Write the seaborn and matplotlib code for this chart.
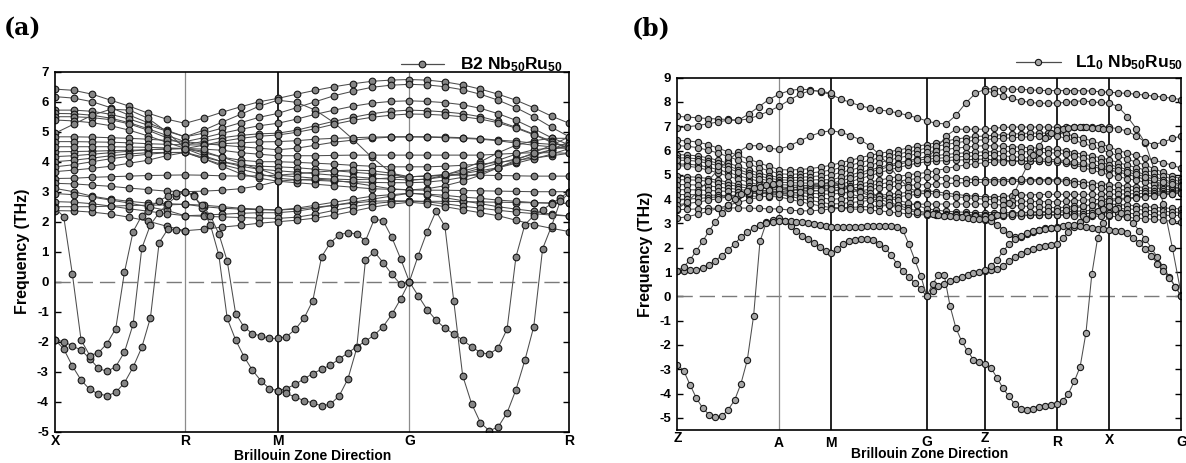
import numpy as np
import pandas as pd
import matplotlib
matplotlib.use('Agg')
import matplotlib.pyplot as plt
from matplotlib.lines import Line2D
import seaborn as sns

# ---------------- panel (a): B2 Nb50Ru50 ----------------
a_labels = ['X', 'R', 'M', 'G', 'R']
a_ticks = [0.0, 0.253, 0.433, 0.689, 1.0]
a_steps_dense = [7, 5, 7, 9]      # k-steps per segment for the 2-7 THz bands
a_steps_soft = [15, 11, 15, 18]   # k-steps per segment for the soft / acoustic branches

# upper bands, 29 k-points each (X..R..M..G..R)
a_upper = [
    [6.42, 6.38, 6.25, 6.05, 5.85, 5.62, 5.42, 5.28, 5.45, 5.65, 5.83, 6.0, 6.11, 6.25, 6.38, 6.5, 6.6, 6.68, 6.72, 6.74, 6.72, 6.66, 6.56, 6.42, 6.25, 6.05, 5.8, 5.52, 5.28],
    [6.17, 6.12, 6.0, 5.8, 5.55, 5.3, 5.05, 4.83, 5.05, 5.32, 5.58, 5.85, 6.05, 5.98, 5.72, 5.3, 4.75, 4.15, 3.65, 3.39, 3.42, 3.55, 3.75, 4.0, 4.3, 4.55, 4.7, 4.78, 4.78],
    [5.72, 5.72, 5.68, 5.58, 5.42, 5.22, 5.02, 4.83, 4.95, 5.12, 5.3, 5.48, 5.61, 5.8, 6.0, 6.2, 6.35, 6.48, 6.55, 6.58, 6.56, 6.5, 6.4, 6.25, 6.05, 5.8, 5.5, 5.15, 4.83],
    [5.61, 5.6, 5.55, 5.45, 5.3, 5.1, 4.88, 4.67, 4.8, 4.95, 5.08, 5.2, 5.28, 5.42, 5.58, 5.72, 5.85, 5.95, 6.01, 6.03, 6.01, 5.97, 5.9, 5.78, 5.6, 5.38, 5.1, 4.8, 4.56],
    [5.5, 5.5, 5.47, 5.4, 5.26, 5.05, 4.8, 4.56, 4.68, 4.8, 4.88, 4.93, 4.95, 5.05, 5.2, 5.35, 5.48, 5.6, 5.68, 5.72, 5.7, 5.66, 5.6, 5.5, 5.35, 5.15, 4.92, 4.68, 4.45],
    [5.39, 5.36, 5.3, 5.2, 5.05, 4.86, 4.65, 4.44, 4.55, 4.68, 4.78, 4.85, 4.89, 4.98, 5.1, 5.25, 5.38, 5.48, 5.55, 5.59, 5.58, 5.55, 5.5, 5.42, 5.3, 5.12, 4.9, 4.65, 4.44],
    [4.95, 5.25, 5.55, 5.75, 5.72, 5.45, 5.0, 4.44, 4.35, 4.15, 3.95, 3.75, 3.55, 3.5, 3.45, 3.42, 3.4, 3.42, 3.46, 3.5, 3.52, 3.58, 3.68, 3.85, 4.05, 4.25, 4.4, 4.45, 4.45],
    [4.83, 4.83, 4.82, 4.8, 4.78, 4.75, 4.71, 4.67, 4.6, 4.55, 4.5, 4.45, 4.4, 4.45, 4.55, 4.65, 4.72, 4.78, 4.82, 4.83, 4.83, 4.82, 4.8, 4.77, 4.72, 4.68, 4.62, 4.58, 4.56],
    [4.67, 4.67, 4.66, 4.65, 4.63, 4.6, 4.58, 4.56, 4.56, 4.6, 4.63, 4.66, 4.67, 4.7, 4.75, 4.78, 4.8, 4.82, 4.83, 4.83, 4.82, 4.8, 4.78, 4.75, 4.7, 4.62, 4.55, 4.5, 4.45],
    [4.5, 4.5, 4.5, 4.5, 4.49, 4.48, 4.46, 4.44, 4.42, 4.38, 4.3, 4.25, 4.2, 4.2, 4.2, 4.21, 4.22, 4.22, 4.22, 4.22, 4.22, 4.22, 4.22, 4.22, 4.25, 4.28, 4.3, 4.3, 4.28],
    [4.33, 4.34, 4.35, 4.37, 4.38, 4.4, 4.42, 4.44, 4.3, 4.15, 4.05, 4.0, 4.0, 3.98, 3.95, 3.92, 3.88, 3.85, 3.83, 3.83, 3.83, 3.85, 3.88, 3.92, 3.98, 4.05, 4.12, 4.2, 4.28],
    [4.17, 4.2, 4.25, 4.3, 4.35, 4.4, 4.43, 4.44, 4.2, 4.0, 3.9, 3.85, 3.83, 3.8, 3.75, 3.7, 3.65, 3.6, 3.55, 3.5, 3.52, 3.55, 3.6, 3.7, 3.8, 3.95, 4.1, 4.25, 4.44],
    [4.0, 4.05, 4.12, 4.2, 4.26, 4.3, 4.31, 4.31, 4.15, 4.0, 3.85, 3.75, 3.7, 3.65, 3.6, 3.55, 3.5, 3.45, 3.42, 3.39, 3.42, 3.5, 3.62, 3.78, 3.95, 4.1, 4.25, 4.4, 4.56],
    [3.83, 3.9, 4.0, 4.1, 4.18, 4.25, 4.3, 4.31, 4.1, 3.9, 3.75, 3.6, 3.45, 3.4, 3.38, 3.35, 3.33, 3.31, 3.3, 3.3, 3.32, 3.38, 3.48, 3.62, 3.8, 4.0, 4.2, 4.4, 4.67],
    [3.67, 3.72, 3.78, 3.85, 3.95, 4.05, 4.2, 4.31, 4.1, 3.85, 3.6, 3.45, 3.35, 3.3, 3.25, 3.2, 3.15, 3.1, 3.08, 3.06, 3.1, 3.2, 3.35, 3.55, 3.8, 4.05, 4.3, 4.55, 4.83],
    [3.44, 3.45, 3.48, 3.5, 3.52, 3.54, 3.55, 3.56, 3.55, 3.53, 3.52, 3.53, 3.55, 3.6, 3.65, 3.7, 3.72, 3.7, 3.62, 3.5, 3.52, 3.55, 3.55, 3.55, 3.54, 3.53, 3.52, 3.52, 3.52],
    [3.28, 3.26, 3.22, 3.18, 3.12, 3.07, 3.02, 3.0, 3.02, 3.05, 3.1, 3.2, 3.35, 3.4, 3.42, 3.38, 3.3, 3.2, 3.1, 3.06, 3.05, 3.05, 3.04, 3.03, 3.02, 3.01, 3.0, 3.0, 3.0],
    [3.11, 3.0, 2.85, 2.75, 2.68, 2.62, 2.6, 2.58, 2.5, 2.45, 2.42, 2.4, 2.39, 2.42, 2.48, 2.55, 2.62, 2.68, 2.7, 2.69, 2.68, 2.68, 2.67, 2.66, 2.65, 2.64, 2.63, 2.62, 2.61],
    [2.94, 2.9, 2.82, 2.72, 2.62, 2.5, 2.38, 2.2, 2.22, 2.25, 2.28, 2.3, 2.3, 2.35, 2.45, 2.55, 2.65, 2.75, 2.85, 2.95, 2.9, 2.8, 2.7, 2.6, 2.5, 2.42, 2.35, 2.25, 2.19],
    [2.67, 2.65, 2.6, 2.52, 2.43, 2.35, 2.27, 2.2, 2.18, 2.16, 2.14, 2.12, 2.11, 2.15, 2.25, 2.38, 2.5, 2.6, 2.66, 2.69, 2.66, 2.6, 2.52, 2.45, 2.38, 2.32, 2.27, 2.22, 2.19],
    [2.37, 2.36, 2.32, 2.25, 2.15, 2.02, 1.85, 1.7, 1.75, 1.82, 1.88, 1.95, 2.0, 2.05, 2.12, 2.22, 2.35, 2.48, 2.58, 2.65, 2.6, 2.5, 2.4, 2.3, 2.2, 2.05, 1.9, 1.78, 1.67],
    [2.5, 2.5, 2.5, 2.52, 2.54, 2.55, 2.56, 2.58, 2.55, 2.5, 2.45, 2.42, 2.39, 2.45, 2.55, 2.65, 2.75, 2.85, 2.9, 2.95, 2.92, 2.88, 2.82, 2.78, 2.72, 2.68, 2.64, 2.62, 2.61],
]

# soft branches: (first k index on the soft grid, frequencies)
a_soft = [
    (0, [-1.94, -2.24, -2.81, -3.28, -3.59, -3.74, -3.80, -3.69, -3.37, -2.85, -2.19, -1.20, 1.30, 1.75, 1.72, 1.68]),
    (0, [-1.94, -2.0, -2.14, -2.28, -2.56, -2.89, -2.99, -2.83, -2.35, -1.42, 1.11, 1.9, 2.3, 2.6, 2.85, 3.0,
         2.9, 2.45, 1.9, 0.89, -1.22, -1.94, -2.50, -2.95, -3.30, -3.56, -3.63,
         -3.56, -3.42, -3.24, -3.06, -2.92, -2.78, -2.58, -2.37, -2.17, -1.98, -1.78, -1.50, -1.09, -0.58, 0.0,
         -0.47, -0.93, -1.28, -1.55, -1.74, -1.94, -2.17, -2.36, -2.42, -2.2, -1.58, 0.83, 1.9, 2.2, 2.4, 2.6, 2.8, 3.0]),
    (0, [2.45, 2.17, 0.25, -1.94, -2.46, -2.37, -2.06, -1.56, 0.31, 1.67, 2.2, 2.5, 2.7, 2.85, 2.95, 3.0,
         2.85, 2.55, 2.2, 1.6, 0.69, -1.06, -1.51, -1.73, -1.81, -1.89, -1.89,
         -1.83, -1.59, -1.22, -0.63, 0.83, 1.30, 1.56, 1.64, 1.59, 1.36, 2.08, 2.04, 1.48, 0.77, 0.0,
         0.87, 1.67, 2.35, 1.85, -0.65, -3.13, -4.06, -4.7, -4.97, -4.84, -4.37, -3.6, -2.62, -1.5, 1.1, 1.85, 2.7, 2.95]),
    (26, [-3.63, -3.72, -3.85, -3.96, -4.04, -4.14, -4.08, -3.81, -3.24, -2.22, 0.72, 1.0, 0.64, 0.25, -0.09, 0.0]),
]

# ---------------- panel (b): L1_0 Nb50Ru50 ----------------
b_labels = ['Z', 'A', 'M', 'G', 'Z', 'R', 'X', 'G']
b_ticks = [0.0, 0.2018, 0.3056, 0.4948, 0.6105, 0.7528, 0.857, 1.0]
b_steps_dense = [10, 5, 10, 6, 8, 6, 8]
b_steps_soft = [16, 9, 16, 10, 12, 9, 12]

# bands on the dense grid: (first k index, frequencies)
b_upper = [
    (0, [7.41, 7.38, 7.35, 7.32, 7.3, 7.28, 7.25, 7.5, 7.8, 8.1, 8.32, 8.47, 8.53, 8.5, 8.42, 8.3,
         8.12, 7.98, 7.85, 7.75, 7.68, 7.62, 7.55, 7.45, 7.35, 7.22, 7.12, 7.1, 7.45, 7.95, 8.35, 8.53,
         8.55, 8.55, 8.53, 8.52, 8.5, 8.48, 8.47, 8.47, 8.47, 8.47, 8.46, 8.45, 8.42, 8.4,
         8.38, 8.35, 8.32, 8.28, 8.24, 8.2, 8.15, 8.1]),
    (0, [6.93, 6.98, 7.03, 7.1, 7.18, 7.25, 7.25, 7.3, 7.45, 7.62, 7.82, 8.08, 8.32, 8.47, 8.45, 8.35]),
    (31, [8.45, 8.38, 8.25, 8.15, 8.05, 7.98, 7.95, 7.95, 7.96, 7.98, 8.02, 8.05, 8.0, 7.98, 7.96,
          7.8, 7.4, 6.9, 6.3, 5.2, 3.8, 2.0, 0.05]),
    (0, [3.6, 3.9, 4.3, 4.75, 5.2, 5.6, 5.95, 6.2, 6.2, 6.1, 6.05, 6.2, 6.4, 6.6, 6.75, 6.82,
         6.75, 6.62, 6.45, 6.2, 5.85, 5.4, 4.9, 4.5, 4.3, 4.2]),
    (25, [5.65, 6.1, 6.6, 6.88, 6.88, 6.88, 6.88, 6.92, 6.95, 6.97, 6.97, 6.97, 6.97, 6.97, 6.97,
          6.97, 6.95, 6.97, 6.97, 6.96, 6.95, 6.9, 6.8, 6.6, 6.35, 6.25, 6.35, 6.5, 6.6]),
    (0, [6.42, 6.4, 6.35, 6.25, 6.1, 5.95, 5.8, 5.65, 5.5, 5.35, 5.22, 5.2, 5.22, 5.26, 5.32, 5.4,
         5.5, 5.6, 5.7, 5.8, 5.88, 5.95, 6.02, 6.1, 6.18, 6.25, 6.32, 6.4, 6.47, 6.53, 6.58, 6.6,
         6.63, 6.66, 6.68, 6.7, 6.72, 6.72, 6.72, 6.72, 6.68, 6.6, 6.5, 6.4, 6.28, 6.15,
         6.0, 5.9, 5.8, 5.7, 5.6, 5.5, 5.4, 5.27]),
    (0, [6.2, 6.18, 6.12, 6.02, 5.9, 5.75, 5.6, 5.45, 5.3, 5.17, 5.05, 5.02, 5.04, 5.08, 5.13, 5.2,
         5.3, 5.4, 5.5, 5.6, 5.7, 5.78, 5.86, 5.94, 6.02, 6.1, 6.18, 6.25, 6.32, 6.38, 6.42, 6.45,
         6.48, 6.5, 6.53, 6.55, 6.57, 6.58, 6.59, 6.59, 6.52, 6.42, 6.3, 6.18, 6.05, 5.92,
         5.78, 5.65, 5.52, 5.4, 5.25, 5.1, 4.95, 4.83]),
    (0, [5.83, 5.82, 5.78, 5.7, 5.6, 5.48, 5.35, 5.2, 5.08, 4.97, 4.9, 4.88, 4.9, 4.93, 4.96, 5.0,
         5.1, 5.2, 5.3, 5.4, 5.5, 5.6, 5.7, 5.78, 5.87, 5.95, 6.0, 6.05, 6.1, 6.14, 6.18, 6.2,
         6.2, 6.18, 6.16, 6.14, 6.12, 6.1, 6.08, 6.05, 6.0, 5.92, 5.85, 5.78, 5.7, 5.62,
         5.5, 5.4, 5.3, 5.2, 5.08, 4.95, 4.82, 4.7]),
    (0, [5.7, 5.7, 5.66, 5.58, 5.48, 5.36, 5.22, 5.08, 4.96, 4.86, 4.8, 4.78, 4.78, 4.79, 4.8, 4.8,
         4.9, 5.0, 5.1, 5.2, 5.3, 5.4, 5.5, 5.58, 5.67, 5.75, 5.8, 5.84, 5.88, 5.91, 5.93, 5.95,
         5.96, 5.97, 5.97, 5.96, 5.95, 5.93, 5.91, 5.9, 5.85, 5.78, 5.7, 5.62, 5.52, 5.42,
         5.32, 5.22, 5.12, 5.02, 4.92, 4.8, 4.7, 4.6]),
    (0, [5.6, 5.6, 5.56, 5.48, 5.38, 5.26, 5.12, 4.98, 4.85, 4.76, 4.7, 4.68, 4.67, 4.66, 4.65, 4.65,
         4.75, 4.86, 4.98, 5.1, 5.22, 5.33, 5.43, 5.52, 5.6, 5.65, 5.68, 5.71, 5.74, 5.76, 5.78, 5.8,
         5.8, 5.78, 5.75, 5.72, 5.69, 5.66, 5.64, 5.63, 5.58, 5.52, 5.47, 5.42, 5.36, 5.3,
         5.22, 5.12, 5.02, 4.92, 4.82, 4.72, 4.62, 4.55]),
    (0, [5.45, 5.44, 5.4, 5.32, 5.22, 5.1, 4.97, 4.85, 4.74, 4.65, 4.6, 4.58, 4.57, 4.56, 4.55, 4.55,
         4.62, 4.72, 4.84, 4.96, 5.08, 5.2, 5.3, 5.4, 5.48, 5.55, 5.57, 5.59, 5.61, 5.62, 5.64, 5.65,
         5.62, 5.6, 5.58, 5.57, 5.56, 5.56, 5.56, 5.56, 5.52, 5.46, 5.4, 5.34, 5.27, 5.2,
         5.12, 5.02, 4.92, 4.82, 4.72, 4.62, 4.52, 4.45]),
    (0, [5.38, 5.36, 5.3, 5.2, 5.08, 4.95, 4.82, 4.7, 4.6, 4.53, 4.5, 4.48, 4.47, 4.46, 4.45, 4.45,
         4.5, 4.56, 4.63, 4.7, 4.78, 4.86, 4.93, 5.0, 5.05, 5.1, 5.18, 5.26, 5.34, 5.41, 5.46, 5.5,
         5.52, 5.54, 5.55, 5.56, 5.56, 5.56, 5.55, 5.55, 5.48, 5.4, 5.3, 5.2, 5.1, 5.0,
         4.92, 4.85, 4.77, 4.7, 4.62, 4.55, 4.48, 4.42]),
    (0, [4.94, 4.93, 4.9, 4.85, 4.78, 4.7, 4.62, 4.55, 4.48, 4.43, 4.4, 4.38, 4.37, 4.36, 4.35, 4.35,
         4.4, 4.45, 4.5, 4.56, 4.62, 4.68, 4.74, 4.8, 4.85, 4.9, 4.9, 4.88, 4.86, 4.84, 4.82, 4.8,
         4.8, 4.8, 4.8, 4.8, 4.8, 4.8, 4.8, 4.8, 4.78, 4.75, 4.72, 4.68, 4.64, 4.6,
         4.57, 4.54, 4.51, 4.48, 4.45, 4.42, 4.38, 4.35]),
    (0, [4.8, 4.8, 4.78, 4.74, 4.68, 4.6, 4.52, 4.45, 4.38, 4.33, 4.3, 4.28, 4.26, 4.24, 4.22, 4.2,
         4.25, 4.3, 4.35, 4.4, 4.45, 4.5, 4.54, 4.57, 4.59, 4.6, 4.62, 4.64, 4.66, 4.68, 4.69, 4.7,
         4.71, 4.72, 4.73, 4.74, 4.75, 4.75, 4.75, 4.75, 4.7, 4.64, 4.58, 4.52, 4.46, 4.4,
         4.39, 4.38, 4.36, 4.35, 4.33, 4.32, 4.31, 4.3]),
    (0, [4.6, 4.6, 4.58, 4.55, 4.5, 4.45, 4.4, 4.35, 4.3, 4.27, 4.25, 4.2, 4.15, 4.1, 4.05, 4.0,
         4.02, 4.05, 4.08, 4.12, 4.16, 4.2, 4.24, 4.28, 4.32, 4.35, 4.3, 4.25, 4.2, 4.15, 4.12, 4.1,
         4.1, 4.12, 4.14, 4.16, 4.18, 4.19, 4.2, 4.2, 4.2, 4.2, 4.2, 4.2, 4.2, 4.2,
         4.21, 4.22, 4.23, 4.24, 4.25, 4.25, 4.26, 4.26]),
    (0, [4.39, 4.39, 4.38, 4.36, 4.34, 4.32, 4.29, 4.26, 4.24, 4.22, 4.2, 4.12, 4.03, 3.95, 3.87, 3.8,
         3.82, 3.86, 3.9, 3.95, 4.0, 4.05, 4.1, 4.15, 4.2, 4.25, 4.2, 4.15, 4.1, 4.06, 4.03, 4.0,
         3.98, 3.96, 3.94, 3.92, 3.91, 3.9, 3.9, 3.9, 3.92, 3.94, 3.96, 3.98, 3.99, 4.0,
         4.02, 4.05, 4.08, 4.12, 4.16, 4.2, 4.23, 4.25]),
    (0, [4.19, 4.19, 4.18, 4.17, 4.16, 4.15, 4.14, 4.13, 4.12, 4.11, 4.1, 4.0, 3.9, 3.8, 3.72, 3.65,
         3.65, 3.66, 3.68, 3.7, 3.72, 3.74, 3.76, 3.78, 3.79, 3.8, 3.8, 3.8, 3.8, 3.8, 3.8, 3.8,
         3.78, 3.76, 3.74, 3.72, 3.7, 3.68, 3.66, 3.65, 3.67, 3.7, 3.73, 3.76, 3.78, 3.8,
         3.78, 3.76, 3.73, 3.7, 3.67, 3.64, 3.62, 3.6]),
    (0, [3.98, 4.0, 4.03, 4.06, 4.1, 4.14, 4.18, 4.22, 4.25, 4.28, 4.3, 4.36, 4.42, 4.48, 4.55, 4.6,
         4.55, 4.45, 4.35, 4.25, 4.15, 4.05, 3.95, 3.85, 3.75, 3.6, 3.55, 3.5, 3.48, 3.46, 3.45, 3.45,
         3.45, 3.45, 3.45, 3.45, 3.45, 3.45, 3.46, 3.46, 3.48, 3.5, 3.52, 3.54, 3.56, 3.6,
         3.62, 3.6, 3.58, 3.55, 3.52, 3.5, 3.48, 3.45]),
    (0, [3.78, 3.82, 3.88, 3.95, 4.02, 4.1, 4.18, 4.25, 4.32, 4.37, 4.4, 4.46, 4.52, 4.58, 4.64, 4.7,
         4.6, 4.45, 4.3, 4.15, 4.0, 3.88, 3.75, 3.62, 3.52, 3.45, 3.42, 3.4, 3.38, 3.37, 3.36, 3.35,
         3.35, 3.35, 3.35, 3.35, 3.35, 3.36, 3.36, 3.36, 3.37, 3.38, 3.4, 3.42, 3.44, 3.45,
         3.45, 3.42, 3.4, 3.38, 3.36, 3.34, 3.33, 3.33]),
    (0, [3.57, 3.58, 3.6, 3.62, 3.63, 3.64, 3.64, 3.63, 3.62, 3.6, 3.6, 3.55, 3.52, 3.52, 3.55, 3.6,
         3.62, 3.6, 3.58, 3.55, 3.52, 3.48, 3.44, 3.4, 3.37, 3.35, 3.35, 3.34, 3.33, 3.32, 3.31, 3.3,
         3.3, 3.3, 3.31, 3.32, 3.33, 3.34, 3.35, 3.35, 3.33, 3.32, 3.31, 3.3, 3.3, 3.3,
         3.28, 3.25, 3.22, 3.2, 3.17, 3.13, 3.09, 3.05]),
    (0, [3.22, 3.28, 3.38, 3.5, 3.62, 3.75, 3.87, 3.98, 4.07, 4.14, 4.2, 4.24, 4.28, 4.32, 4.36, 4.4,
         4.32, 4.22, 4.1, 3.98, 3.86, 3.75, 3.64, 3.54, 3.46, 3.4, 3.38, 3.36, 3.34, 3.33, 3.32, 3.32,
         3.33, 3.36, 3.4, 3.44, 3.47, 3.49, 3.5, 3.5, 3.55, 3.62, 3.7, 3.78, 3.85, 3.92,
         3.95, 4.0, 4.05, 4.1, 4.14, 4.18, 4.22, 4.26]),
]

b_soft = [
    (0, [-2.81, -3.06, -3.64, -4.19, -4.60, -4.87, -4.98, -4.94, -4.66, -4.28, -3.6, -2.63, -0.80, 2.26, 3.04, 3.16, 3.23,
         3.1, 2.9, 2.68, 2.5, 2.35, 2.2, 2.02, 1.87, 1.78,
         1.95, 2.15, 2.28, 2.34, 2.36, 2.36, 2.3, 2.15, 2.0, 1.7, 1.35, 1.05, 0.8, 0.55, 0.3, 0.0,
         0.5, 0.88, 0.88, -0.4, -1.3, -1.85, -2.25, -2.6, -2.72, -2.8,
         -2.95, -3.35, -3.78, -4.12, -4.45, -4.63, -4.66, -4.62, -4.57, -4.52, -4.48, -4.43,
         -4.3, -4.0, -3.5, -2.9, -1.5, 0.9, 2.4, 3.0, 3.35]),
    (0, [1.03, 1.05, 1.07, 1.1, 1.18, 1.3, 1.47, 1.68, 1.91, 2.16, 2.43, 2.64, 2.81, 2.93, 3.0, 3.05, 3.1,
         3.1, 3.09, 3.07, 3.04, 3.0, 2.96, 2.92, 2.88, 2.85,
         2.84, 2.84, 2.85, 2.86, 2.87, 2.88, 2.88, 2.89, 2.9, 2.9, 2.85, 2.72, 2.15, 1.5, 0.85, 0.0,
         0.2, 0.42, 0.52, 0.62, 0.72, 0.8, 0.88, 0.95, 1.02, 1.05,
         1.1, 1.14, 1.27, 1.44, 1.6, 1.76, 1.87, 1.96, 2.03, 2.08, 2.12, 2.15,
         2.4, 2.65, 2.85, 3.05, 3.2, 3.35, 3.5, 3.6, 3.7,
         3.6, 3.45, 3.25, 3.0, 2.7, 2.35, 2.0, 1.6, 1.2, 0.8, 0.4, 0.0]),
    (0, [1.05, 1.22, 1.5, 1.88, 2.27, 2.7, 3.07, 3.43, 3.75, 4.0, 4.2, 4.35, 4.45, 4.52, 4.58, 4.62, 4.65]),
    (41, [3.4, 3.38, 3.35, 3.32, 3.3, 3.28, 3.25, 3.22, 3.2, 3.17, 3.15,
          3.1, 2.95, 2.75, 2.55, 2.45, 2.45, 2.55, 2.65, 2.75, 2.8, 2.82, 2.85,
          2.9, 2.95, 2.92, 2.9, 2.85, 2.8, 2.78, 2.76, 2.75,
          2.7, 2.68, 2.6, 2.42, 2.2, 1.95, 1.65, 1.35, 1.05, 0.75, 0.4, 0.0]),
    (51, [3.2, 3.25, 3.35, 3.55, 3.85, 4.3, 4.85, 5.35, 5.8, 6.2, 6.5, 6.72, 6.85,
          6.9, 6.92, 6.95, 6.95, 6.95, 6.94, 6.93, 6.9, 6.88]),
    (51, [1.08, 1.25, 1.5, 1.85, 2.15, 2.35, 2.5, 2.6, 2.68, 2.72, 2.76, 2.8, 2.82]),
]


def kpath(ticks, steps):
    k = [ticks[0]]
    for i, n in enumerate(steps):
        k.extend(np.linspace(ticks[i], ticks[i + 1], n + 1)[1:])
    return np.array(k)


def to_frame(k, pieces, tag):
    rows = []
    for i, (start, vals) in enumerate(pieces):
        assert start + len(vals) <= len(k), (tag, i, len(vals))
        for j, v in enumerate(vals):
            rows.append({'band': f'{tag}{i}', 'k': k[start + j], 'freq': v})
    return pd.DataFrame(rows)


sns.set_theme(style='white')
plt.rcParams['font.family'] = ['Liberation Sans', 'DejaVu Sans']
plt.rcParams['font.weight'] = 'bold'
plt.rcParams['axes.unicode_minus'] = False
plt.rcParams['mathtext.fontset'] = 'custom'
plt.rcParams['mathtext.rm'] = 'Liberation Sans:bold'
plt.rcParams['mathtext.bf'] = 'Liberation Sans:bold'
plt.rcParams['mathtext.default'] = 'bf'
plt.rcParams.update({'text.color': 'black', 'axes.labelcolor': 'black',
                     'xtick.color': 'black', 'ytick.color': 'black'})

fig = plt.figure(figsize=(11.86, 4.63), dpi=100)
ax_a = fig.add_axes([0.0464, 0.0676, 0.4336, 0.7775])
ax_b = fig.add_axes([0.5711, 0.0713, 0.4250, 0.7609])

panels = [
    dict(ax=ax_a, ticks=a_ticks, labels=a_labels,
         dense=to_frame(kpath(a_ticks, a_steps_dense), [(0, b) for b in a_upper], 'u'),
         soft=to_frame(kpath(a_ticks, a_steps_soft), a_soft, 's'),
         vlines=[('#8c8c8c', 0.9), ('#111111', 1.3), ('#8c8c8c', 0.9)],
         ylim=(-5, 7), yticks=range(-5, 8), face='#858585', ms=4.8,
         lab_dy=[1.5, 1.5, 1.5, 1.5, 1.5],
         legend=r'B2 Nb$_{50}$Ru$_{50}$', leg_xy=(400.5, 65), handlelen=2.5, textpad=0.9,
         tag='(a)', tag_x=4),
    dict(ax=ax_b, ticks=b_ticks, labels=b_labels,
         dense=to_frame(kpath(b_ticks, b_steps_dense), b_upper, 'u'),
         soft=to_frame(kpath(b_ticks, b_steps_soft), b_soft, 's'),
         vlines=[('#8c8c8c', 0.9)] + [('#111111', 1.3)] * 5,
         ylim=(-5.5, 9), yticks=range(-5, 10), face='#a6a6a6', ms=4.5,
         lab_dy=[1, 4.5, 4.5, 3.5, 1, 3.5, 2, 3.5],
         legend=r'L1$_0$ Nb$_{50}$Ru$_{50}$', leg_xy=(1015.8, 63), handlelen=2.6, textpad=0.8,
         tag='(b)', tag_x=632),
]

W, H = 1186, 463
for p in panels:
    ax = p['ax']
    ax.axhline(0, color='#7a7a7a', lw=1.0, dashes=(11, 5), zorder=1)
    for x, (c, w) in zip(p['ticks'][1:-1], p['vlines']):
        ax.axvline(x, color=c, lw=w, zorder=1)

    line_kw = dict(x='k', y='freq', units='band', estimator=None, sort=False,
                   color='#4d4d4d', linewidth=0.75, marker='o', markersize=p['ms'],
                   markerfacecolor=p['face'], markeredgecolor='#161616',
                   markeredgewidth=0.8, legend=False, ax=ax)
    sns.lineplot(data=p['dense'], **line_kw)
    sns.lineplot(data=p['soft'], **line_kw)

    ax.set_xlim(0, 1)
    ax.set_ylim(*p['ylim'])
    ax.set_yticks(list(p['yticks']))
    ax.set_xticks([])
    ax.tick_params(axis='y', direction='in', length=4, width=1, left=True, right=True,
                   labelsize=9.5, pad=4.5)
    for s in ax.spines.values():
        s.set_color('black')
        s.set_linewidth(1.2)

    for x, lbl, dy in zip(p['ticks'], p['labels'], p['lab_dy']):
        ax.annotate(lbl, xy=(x, 0), xycoords=('data', 'axes fraction'),
                    xytext=(0, -dy), textcoords='offset points',
                    ha='center', va='top', fontsize=10, fontweight='bold')

    ax.set_xlabel('Brillouin Zone Direction', fontsize=10, fontweight='bold')
    ax.xaxis.set_label_coords(0.5, -0.047)
    ax.set_ylabel('Frequency (THz)', fontsize=11.5, fontweight='bold')
    ax.yaxis.set_label_coords(-0.048, 0.5)

    handle = Line2D([], [], color='#4d4d4d', lw=0.9, marker='o', markersize=p['ms'],
                    markerfacecolor=p['face'], markeredgecolor='#161616', markeredgewidth=0.8)
    lx, ly = p['leg_xy']
    ax.legend([handle], [p['legend']], loc='center left',
              bbox_to_anchor=(lx / W, 1 - ly / H), bbox_transform=fig.transFigure,
              frameon=False, fontsize=12.5, handlelength=p['handlelen'],
              handletextpad=p['textpad'], borderpad=0, borderaxespad=0)

    fig.text(p['tag_x'] / W, 1 - 28 / H, p['tag'], family=['DejaVu Serif'],
             fontsize=17, fontweight='bold', ha='left', va='center')

fig.savefig('out.png', dpi=100)
